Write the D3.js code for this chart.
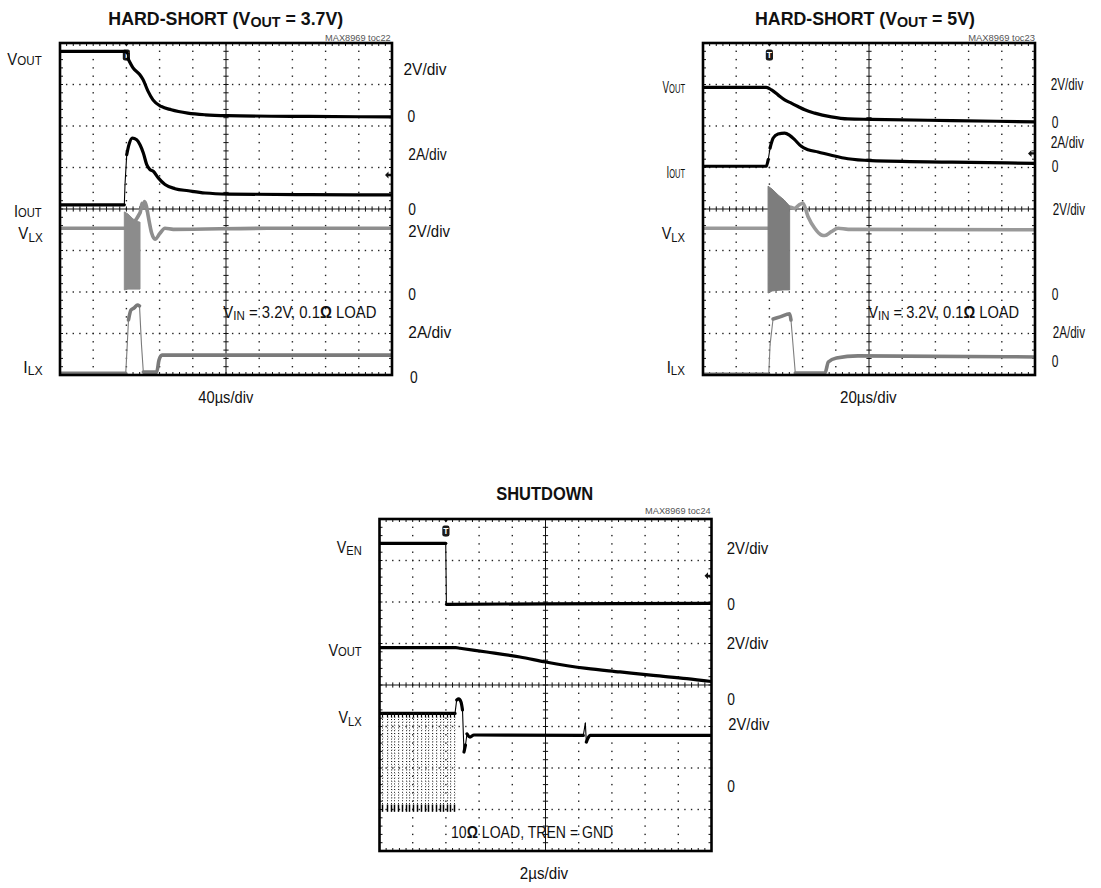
<!DOCTYPE html>
<html><head><meta charset="utf-8">
<script src="https://cdn.jsdelivr.net/npm/d3@7"></script>
<style>
html,body{margin:0;padding:0;background:#fff;}
svg{display:block;}
text{font-family:"Liberation Sans",Arial,Helvetica,sans-serif;fill:#111;}
</style></head><body>
<svg id="chart" width="1101" height="888"></svg>
<script>
// ================= DATA (time in µs, values in V or A) =================
// Panel 1: HARD-SHORT (VOUT = 3.7V), 40µs/div
const p1VoutT = [0, 78, 81, 82, 88, 96, 100, 106, 112, 122, 134, 154, 175, 202, 300, 400];
const p1VoutV = [3.16, 3.16, 3.08, 2.80, 2.36, 2.04, 1.80, 1.24, 0.82, 0.50, 0.34, 0.18, 0.10, 0.06, 0.02, 0.00];
const p1IoutT = [0, 77.5, 78.3, 80.4, 83.1, 87.1, 92.4, 96.4, 100.4, 104.5, 108.4, 112.4, 118.4, 126.5, 138.6, 154.6, 174.7, 202.8, 300, 400];
const p1IoutA = [0.20, 0.20, 1.17, 2.62, 3.10, 3.42, 3.34, 3.10, 2.70, 2.14, 1.90, 1.82, 1.50, 1.18, 0.98, 0.88, 0.77, 0.72, 0.69, 0.68];
const p1VlxT = [0, 77.5, 96.4, 97.5, 98.8, 100.4, 101.8, 104.2, 106.4, 110.5, 114.5, 120.5, 126.5, 136.5, 250, 400];
const p1VlxV = [3.07, 3.07, 3.81, 4.00, 4.28, 4.10, 4.36, 4.12, 3.63, 2.83, 2.54, 2.83, 3.07, 3.02, 3.07, 3.07];
const p1VlxBandT = [77.5, 81.9, 88, 95.2, 96.4];
const p1VlxBandHi = [3.86, 3.76, 3.52, 3.37, 3.37];
const p1VlxBandLo = [0.10, 0.14, 0.14, 0.14, 0.14];
const p1IlxT = [0, 79.2, 80.7, 82.5, 85.5, 89.2, 93.4, 95.8, 98.2, 100.4, 116.5, 119.3, 122.9, 250, 400];
const p1IlxA = [0.08, 0.08, 1.20, 2.65, 3.13, 3.23, 3.37, 3.33, 1.45, 0.14, 0.14, 0.72, 0.96, 0.96, 0.96];

// Panel 2: HARD-SHORT (VOUT = 5V), 20µs/div
const p2VoutT = [0, 38.1, 41.3, 45.2, 49.2, 53.2, 57.2, 61.3, 67.3, 77.3, 87.3, 101.4, 150, 200];
const p2VoutV = [1.62, 1.62, 1.50, 1.26, 1.02, 0.86, 0.70, 0.54, 0.38, 0.20, 0.10, 0.08, 0.02, -0.04];
const p2IoutT = [0, 38.1, 39.3, 40.4, 42.3, 45.2, 49.2, 52.2, 55.2, 59.2, 63.3, 69.3, 77.3, 87.3, 101.4, 150, 200];
const p2IoutA = [0.06, 0.06, 0.38, 0.94, 1.42, 1.61, 1.66, 1.55, 1.34, 1.02, 0.86, 0.75, 0.59, 0.42, 0.33, 0.26, 0.20];
const p2VlxT = [0, 39.2, 52.2, 55.2, 57.8, 60.2, 63.3, 67.3, 71.3, 73.4, 77.3, 81.4, 87.5, 200];
const p2VlxV = [3.07, 3.07, 4.10, 4.03, 4.19, 4.28, 3.63, 3.07, 2.75, 2.72, 2.91, 3.07, 3.02, 3.00];
const p2VlxBandT = [39.2, 41.6, 45.2, 48.8, 52.2];
const p2VlxBandHi = [5.10, 4.96, 4.68, 4.44, 4.14];
const p2VlxBandLo = [-0.05, 0.05, 0.08, 0.10, 0.10];
const p2IlxT = [0, 39.6, 40.4, 42.2, 46.4, 52.2, 53.0, 55.6, 73.5, 75.5, 80.4, 93.4, 200];
const p2IlxA = [0.03, 0.03, 1.45, 2.70, 2.80, 2.95, 2.65, 0.10, 0.10, 0.63, 0.82, 0.92, 0.87];

// Panel 3: SHUTDOWN, 2µs/div
const p3VenT = [0, 3.99, 4.03, 10, 20];
const p3VenV = [2.97, 2.97, 0.03, 0.05, 0.07];
const p3VoutT = [0, 4.6, 4.85, 6.46, 8.46, 10.01, 12.48, 14.49, 16.49, 18.51, 20];
const p3VoutV = [2.52, 2.52, 2.49, 2.31, 2.07, 1.83, 1.52, 1.35, 1.18, 1.03, 0.89];
const p3VlxT = [0, 4.55, 4.65, 4.77, 4.91, 5.00, 5.09, 5.18, 5.27, 5.45, 5.69, 12.28, 12.40, 12.46, 12.58, 12.68, 20];
const p3VlxV = [3.55, 3.55, 4.20, 4.25, 4.10, 3.72, 1.69, 2.03, 2.56, 2.41, 2.51, 2.49, 3.09, 2.17, 2.39, 2.49, 2.49];
const p3VlxPulseT = [0.17, 0.43, 0.67, 0.87, 1.10, 1.34, 1.58, 1.80, 2.04, 2.24, 2.48, 2.74, 2.94, 3.18, 3.40, 3.64, 3.84, 4.04, 4.24, 4.48];
const p3VlxPulseHigh = 3.55;
const p3VlxPulseLow = -1.19;

// Text content
const titles = [["HARD-SHORT (V", "OUT", " = 3.7V)"], ["HARD-SHORT (V", "OUT", " = 5V)"], ["SHUTDOWN"]];
const tocLabels = ["MAX8969 toc22", "MAX8969 toc23", "MAX8969 toc24"];
const timeLabels = ["40µs/div", "20µs/div", "2µs/div"];
const p1ScaleLabels = ["2V/div", "0", "2A/div", "0", "2V/div", "0", "2A/div", "0"];
const p2ScaleLabels = ["2V/div", "0", "2A/div", "0", "2V/div", "0", "2A/div", "0"];
const p3ScaleLabels = ["2V/div", "0", "2V/div", "0", "2V/div", "0"];

// ================= LAYOUT =================
const SIZE = 332;
const svg = d3.select("#chart");

function addText(parent, s) {
  const size = s.size || 16.5;
  const t = parent.append("text")
    .attr("text-anchor", s.anchor || "start")
    .style("font-size", size + "px")
    .style("font-weight", s.weight || "normal")
    .style("fill", s.fill || "#111");
  let shift = 0;
  s.parts.forEach(p => {
    const str = p[0], kind = p[1];
    const ts = t.append("tspan").text(str);
    const want = kind === "sub" ? (s.subShift || 0) : 0;
    if (want !== shift) { ts.attr("dy", want - shift); shift = want; }
    if (kind === "sub") ts.style("font-size", (s.subSize || size * 0.78) + "px");
    if (kind === "b") ts.style("font-weight", "bold");
  });
  const nat = t.node().getComputedTextLength();
  const sx = s.w ? s.w / nat : 1;
  t.attr("transform", `translate(${s.x},${s.y}) scale(${sx},1)`);
  return t;
}

function drawGrid(g, xDiv, yDiv) {
  const X0 = xDiv(0), X1 = xDiv(10), Yt = yDiv(8), Yb = yDiv(0);
  const minorX = d3.range(0, 51).map(i => i / 5);
  const minorY = d3.range(0, 41).map(i => i / 5);
  const dots = [];
  d3.range(1, 10).filter(i => i !== 5).forEach(i => minorY.forEach(m => dots.push([xDiv(i), yDiv(m)])));
  d3.range(1, 8).filter(j => j !== 4).forEach(j => minorX.forEach(m => dots.push([xDiv(m), yDiv(j)])));
  g.append("g").selectAll("rect").data(dots).join("rect")
    .attr("x", d => d[0] - 0.7).attr("y", d => d[1] - 0.7)
    .attr("width", 1.4).attr("height", 1.4).attr("fill", "#222");
  const lines = g.append("g").attr("stroke", "#111").attr("stroke-width", 1);
  lines.append("line").attr("x1", xDiv(5)).attr("x2", xDiv(5)).attr("y1", Yt).attr("y2", Yb);
  lines.append("line").attr("x1", X0).attr("x2", X1).attr("y1", yDiv(4)).attr("y2", yDiv(4));
  minorY.forEach(m => {
    lines.append("line").attr("x1", xDiv(5) - 2.6).attr("x2", xDiv(5) + 2.6).attr("y1", yDiv(m)).attr("y2", yDiv(m));
    lines.append("line").attr("x1", X0).attr("x2", X0 + 3).attr("y1", yDiv(m)).attr("y2", yDiv(m));
    lines.append("line").attr("x1", X1 - 3).attr("x2", X1).attr("y1", yDiv(m)).attr("y2", yDiv(m));
  });
  minorX.forEach(m => {
    lines.append("line").attr("x1", xDiv(m)).attr("x2", xDiv(m)).attr("y1", yDiv(4) - 2.6).attr("y2", yDiv(4) + 2.6);
    lines.append("line").attr("x1", xDiv(m)).attr("x2", xDiv(m)).attr("y1", Yt).attr("y2", Yt + 3);
    lines.append("line").attr("x1", xDiv(m)).attr("x2", xDiv(m)).attr("y1", Yb - 3).attr("y2", Yb);
  });
}

function drawTrace(g, xs, yf, T, V, color, w) {
  const pts = T.map((t, i) => [xs(t), yf(V[i])]);
  const runs = [];
  let run = [pts[0]];
  for (let i = 1; i < pts.length; i++) {
    const dx = pts[i][0] - pts[i - 1][0], dy = Math.abs(pts[i][1] - pts[i - 1][1]);
    const steep = dy > 5 && dy > 6 * Math.max(dx, 0.01);
    if (steep) {
      if (run.length > 1) runs.push({ steep: false, pts: run });
      runs.push({ steep: true, pts: [pts[i - 1], pts[i]] });
      run = [pts[i]];
    } else run.push(pts[i]);
  }
  if (run.length > 1) runs.push({ steep: false, pts: run });
  const smooth = d3.line().curve(d3.curveMonotoneX);
  const straight = d3.line();
  runs.forEach(r => g.append("path")
    .attr("d", r.steep ? straight(r.pts) : smooth(r.pts))
    .attr("fill", "none").attr("stroke", color)
    .attr("stroke-width", r.steep ? 1.1 : w)
    .attr("stroke-linejoin", "round").attr("stroke-linecap", "round"));
}

function drawBand(g, xs, yf, T, HI, LO, color) {
  const area = d3.area().x((d, i) => xs(T[i])).y0((d, i) => yf(LO[i])).y1((d, i) => yf(HI[i]));
  g.append("path").attr("d", area(T)).attr("fill", color).attr("stroke", color).attr("stroke-width", 1);
}

const panels = [
  {
    x0: 60, y0: 43, tMax: 400, trig: 80, levelDiv: 4.82,
    traces: [
      { t: p1VlxT, v: p1VlxV, ground: 2.0, perDiv: 2, color: "#8e8e8e", w: 3.6,
        band: { t: p1VlxBandT, hi: p1VlxBandHi, lo: p1VlxBandLo, color: "#8c8c8c" } },
      { t: p1IlxT, v: p1IlxA, ground: 0.0, perDiv: 2, color: "#7a7a7a", w: 3.6 },
      { t: p1IoutT, v: p1IoutA, ground: 4.0, perDiv: 2, color: "#000", w: 3.2 },
      { t: p1VoutT, v: p1VoutV, ground: 6.22, perDiv: 2, color: "#000", w: 3.2 }
    ],
    title: { parts: [[titles[0][0]], [titles[0][1], "sub"], [titles[0][2]]], x: 225.8, y: 25, w: 235 },
    toc: { x: 390.7, y: 40.5, w: 65.7 },
    left: [
      { parts: [["V"], ["OUT", "sub"]], x: 41.7, y: 65, w: 34.4, subShift: 0 },
      { parts: [["I"], ["OUT", "sub"]], x: 41.7, y: 216.7, w: 27.7, subShift: 0 },
      { parts: [["V"], ["LX", "sub"]], x: 42.7, y: 238.5, w: 24.4, subShift: 3 },
      { parts: [["I"], ["LX", "sub"]], x: 42.7, y: 373.3, w: 19.4, subShift: 1.5 }
    ],
    right: { labels: p1ScaleLabels,
      pos: [[403.5, 75, 43], [407.5, 121.7, 7.7], [408.3, 160, 38.5], [408.3, 215, 7.7],
            [408.3, 236.7, 41.7], [408.3, 300, 7.7], [408.3, 338.3, 43], [410, 383.3, 7.7]] },
    time: { x: 225.8, y: 403.3, w: 55 },
    note: { parts: [["V"], ["IN", "sub"], [" = 3.2V, 0.1"], ["Ω", "b"], [" LOAD"]], x: 223.3, y: 318.3, w: 153.4, subShift: 1.8 }
  },
  {
    x0: 703, y0: 43, tMax: 200, trig: 40, levelDiv: 5.34,
    traces: [
      { t: p2VlxT, v: p2VlxV, ground: 2.0, perDiv: 2, color: "#999", w: 3.6,
        band: { t: p2VlxBandT, hi: p2VlxBandHi, lo: p2VlxBandLo, color: "#7d7d7d" } },
      { t: p2IlxT, v: p2IlxA, ground: 0.0, perDiv: 2, color: "#7e7e7e", w: 3.6 },
      { t: p2IoutT, v: p2IoutA, ground: 5.0, perDiv: 2, color: "#000", w: 3.2 },
      { t: p2VoutT, v: p2VoutV, ground: 6.12, perDiv: 2, color: "#000", w: 3.2 }
    ],
    title: { parts: [[titles[1][0]], [titles[1][1], "sub"], [titles[1][2]]], x: 865, y: 25, w: 220 },
    toc: { x: 1035, y: 40.5, w: 67 },
    left: [
      { parts: [["V"], ["OUT", "sub"]], x: 685, y: 93.3, w: 22.5, subShift: 0 },
      { parts: [["I"], ["OUT", "sub"]], x: 685, y: 178.3, w: 18.5, subShift: 0 },
      { parts: [["V"], ["LX", "sub"]], x: 685, y: 238.5, w: 23.3, subShift: 3 },
      { parts: [["I"], ["LX", "sub"]], x: 685, y: 373.3, w: 18.3, subShift: 1.5 }
    ],
    right: { labels: p2ScaleLabels,
      pos: [[1050.7, 90, 32.7], [1051.7, 128.3, 6.7], [1050.7, 148.3, 33.3], [1051.7, 171.7, 6.7],
            [1052.7, 215, 32.3], [1051.7, 300, 6.7], [1052.7, 338.3, 32.3], [1051.7, 366.7, 6.7]] },
    time: { x: 868.3, y: 403.3, w: 56.7 },
    note: { parts: [["V"], ["IN", "sub"], [" = 3.2V, 0.1"], ["Ω", "b"], [" LOAD"]], x: 868.3, y: 318.3, w: 151, subShift: 1.8 }
  },
  {
    x0: 379.5, y0: 519, tMax: 20, trig: 4, levelDiv: 6.63,
    traces: [
      { t: p3VenT, v: p3VenV, ground: 5.93, perDiv: 2, color: "#000", w: 3.2 },
      { t: p3VoutT, v: p3VoutV, ground: 3.64, perDiv: 2, color: "#000", w: 3.2 },
      { t: p3VlxT, v: p3VlxV, ground: 1.54, perDiv: 2, color: "#000", w: 3.2,
        pulses: { t: p3VlxPulseT, hi: p3VlxPulseHigh, lo: p3VlxPulseLow } }
    ],
    title: { parts: [[titles[2][0]]], x: 544.7, y: 500, w: 97 },
    toc: { x: 710.7, y: 514, w: 65.7 },
    left: [
      { parts: [["V"], ["EN", "sub"]], x: 361.7, y: 553.3, w: 25, subShift: 2 },
      { parts: [["V"], ["OUT", "sub"]], x: 361.7, y: 655.5, w: 33.3, subShift: 0 },
      { parts: [["V"], ["LX", "sub"]], x: 361.7, y: 722.5, w: 23.3, subShift: 3 }
    ],
    right: { labels: p3ScaleLabels,
      pos: [[726.7, 554, 41.7], [727.3, 610, 7.7], [726.7, 649, 41.7], [727.3, 705, 7.7],
            [728.3, 730, 41], [727.3, 791.7, 7.7]] },
    time: { x: 544, y: 879.3, w: 48.3 },
    note: { parts: [["10"], ["Ω", "b"], [" LOAD, T"], ["REN"], [" = GND"]], x: 451, y: 838.3, w: 162.3 }
  }
];

panels.forEach((cfg, pi) => {
  const g = svg.append("g");
  const xDiv = d3.scaleLinear().domain([0, 10]).range([cfg.x0, cfg.x0 + SIZE]);
  const yDiv = d3.scaleLinear().domain([0, 8]).range([cfg.y0 + SIZE, cfg.y0]);
  const xT = d3.scaleLinear().domain([0, cfg.tMax]).range([cfg.x0, cfg.x0 + SIZE]);

  drawGrid(g, xDiv, yDiv);

  // trigger marker
  const tx = xT(cfg.trig);
  g.append("path").attr("d", `M${tx - 2.5},${cfg.y0} L${tx + 2.5},${cfg.y0} L${tx},${cfg.y0 + 3.5} Z`).attr("fill", "#111");
  g.append("rect").attr("x", tx - 3.6).attr("y", cfg.y0 + 6.5).attr("width", 7.2).attr("height", 11)
    .attr("rx", 2.2).attr("fill", "#1a1a1a");
  g.append("text").attr("x", tx).attr("y", cfg.y0 + 15.3).attr("text-anchor", "middle")
    .style("font-size", "8.5px").style("font-weight", "bold").style("fill", "#fff").text("T");

  // trigger-level arrow at right edge
  const ly = yDiv(cfg.levelDiv), lx = xDiv(10) - 7;
  g.append("path").attr("d", `M${lx},${ly} l3.5,-3.5 l0,2.4 l2.5,0 l0,2.2 l-2.5,0 l0,2.4 Z`).attr("fill", "#111");

  // traces (clipped to graticule)
  const clipId = "clip" + pi;
  svg.append("clipPath").attr("id", clipId).append("rect")
    .attr("x", cfg.x0).attr("y", cfg.y0).attr("width", SIZE).attr("height", SIZE);
  const tg = g.append("g").attr("clip-path", `url(#${clipId})`);
  cfg.traces.forEach(tr => {
    const yf = v => yDiv(tr.ground + v / tr.perDiv);
    drawTrace(tg, xT, yf, tr.t, tr.v, tr.color, tr.w);
    if (tr.band) drawBand(tg, xT, yf, tr.band.t, tr.band.hi, tr.band.lo, tr.band.color);
    if (tr.pulses) {
      const pg = tg.append("g");
      tr.pulses.t.forEach(t => {
        const x = Math.round(xT(t)) + 0.5;
        pg.append("line").attr("x1", x).attr("x2", x).attr("y1", yf(tr.pulses.hi)).attr("y2", yf(tr.pulses.lo))
          .attr("stroke", "#222").attr("stroke-width", 1).attr("stroke-dasharray", "1,1.8");
        pg.append("line").attr("x1", x + 1).attr("x2", x + 1).attr("y1", yf(tr.pulses.hi) + 4).attr("y2", yf(tr.pulses.lo + 0.5))
          .attr("stroke", "#777").attr("stroke-width", 0.6).attr("stroke-dasharray", "0.8,3.2");
        pg.append("line").attr("x1", x).attr("x2", x).attr("y1", yf(tr.pulses.lo)).attr("y2", yf(tr.pulses.lo + 0.35))
          .attr("stroke", "#000").attr("stroke-width", 1.5);
        pg.append("line").attr("x1", x).attr("x2", x).attr("y1", yf(tr.pulses.hi) + 1).attr("y2", yf(tr.pulses.hi - 0.2))
          .attr("stroke", "#000").attr("stroke-width", 1.2);
      });
    }
  });

  // frame
  g.append("rect").attr("x", cfg.x0).attr("y", cfg.y0).attr("width", SIZE).attr("height", SIZE)
    .attr("fill", "none").attr("stroke", "#000").attr("stroke-width", 2.6);

  // texts
  addText(g, Object.assign({ anchor: "middle", size: 18, weight: "bold", subSize: 14.5, subShift: 1.7 }, cfg.title));
  addText(g, { parts: [[tocLabels[pi]]], x: cfg.toc.x, y: cfg.toc.y, w: cfg.toc.w, anchor: "end", size: 9.5, fill: "#555" });
  cfg.left.forEach(l => addText(g, Object.assign({ anchor: "end", subSize: 12.8 }, l)));
  cfg.right.labels.forEach((lab, i) => {
    const p = cfg.right.pos[i];
    addText(g, { parts: [[lab]], x: p[0], y: p[1], w: p[2] });
  });
  addText(g, { parts: [[timeLabels[pi]]], x: cfg.time.x, y: cfg.time.y, w: cfg.time.w, anchor: "middle" });
  addText(g, Object.assign({ subSize: 12.8 }, cfg.note));
});
</script>
</body></html>
